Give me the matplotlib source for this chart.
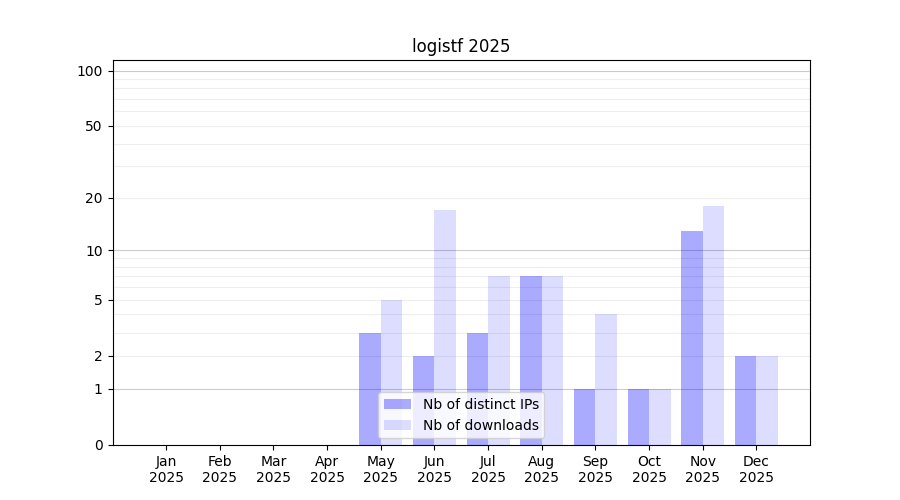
import numpy as np
import matplotlib
matplotlib.use("Agg")
import matplotlib.pyplot as plt

# Monthly stats for logistf
months = ["Jan", "Feb", "Mar", "Apr", "May", "Jun",
          "Jul", "Aug", "Sep", "Oct", "Nov", "Dec"]
year = "2025"
distinct_ips = [0, 0, 0, 0, 3, 2, 3, 7, 1, 1, 13, 2]
downloads = [0, 0, 0, 0, 5, 17, 7, 7, 4, 1, 18, 2]

y_ticks = [0, 1, 2, 5, 10, 20, 50, 100]
major_grid = [1, 10, 100]
minor_grid = [2, 3, 4, 5, 6, 7, 8, 9, 20, 30, 40, 50, 60, 70, 80, 90]


def fwd(v):
    return np.log10(1 + np.maximum(v, 0))


def inv(v):
    return 10 ** v - 1


fig, ax = plt.subplots(figsize=(9, 5), dpi=100)
x = np.arange(len(months))
w = 0.4

ax.set_yscale("function", functions=(fwd, inv))

for g in minor_grid:
    ax.axhline(g, color="#eeeeee", lw=0.8, zorder=0)
for g in major_grid:
    ax.axhline(g, color="#cccccc", lw=0.8, zorder=0)

ax.bar(x - w / 2, distinct_ips, width=w, color="blue", alpha=1 / 3,
       label="Nb of distinct IPs", zorder=1)
ax.bar(x + w / 2, downloads, width=w, color="blue", alpha=0.135,
       label="Nb of downloads", zorder=1)

ax.set_xticks(x)
ax.set_xticklabels([m + "\n" + year for m in months])
ax.set_xlim(-1, 12)

ax.set_yticks(y_ticks)
ax.set_yticklabels([str(t) for t in y_ticks])
ax.yaxis.set_minor_locator(matplotlib.ticker.NullLocator())
ax.set_ylim(0, 114)

ax.set_title("logistf 2025")
ax.legend(loc="lower center")

fig.savefig("out.png", dpi=100)
